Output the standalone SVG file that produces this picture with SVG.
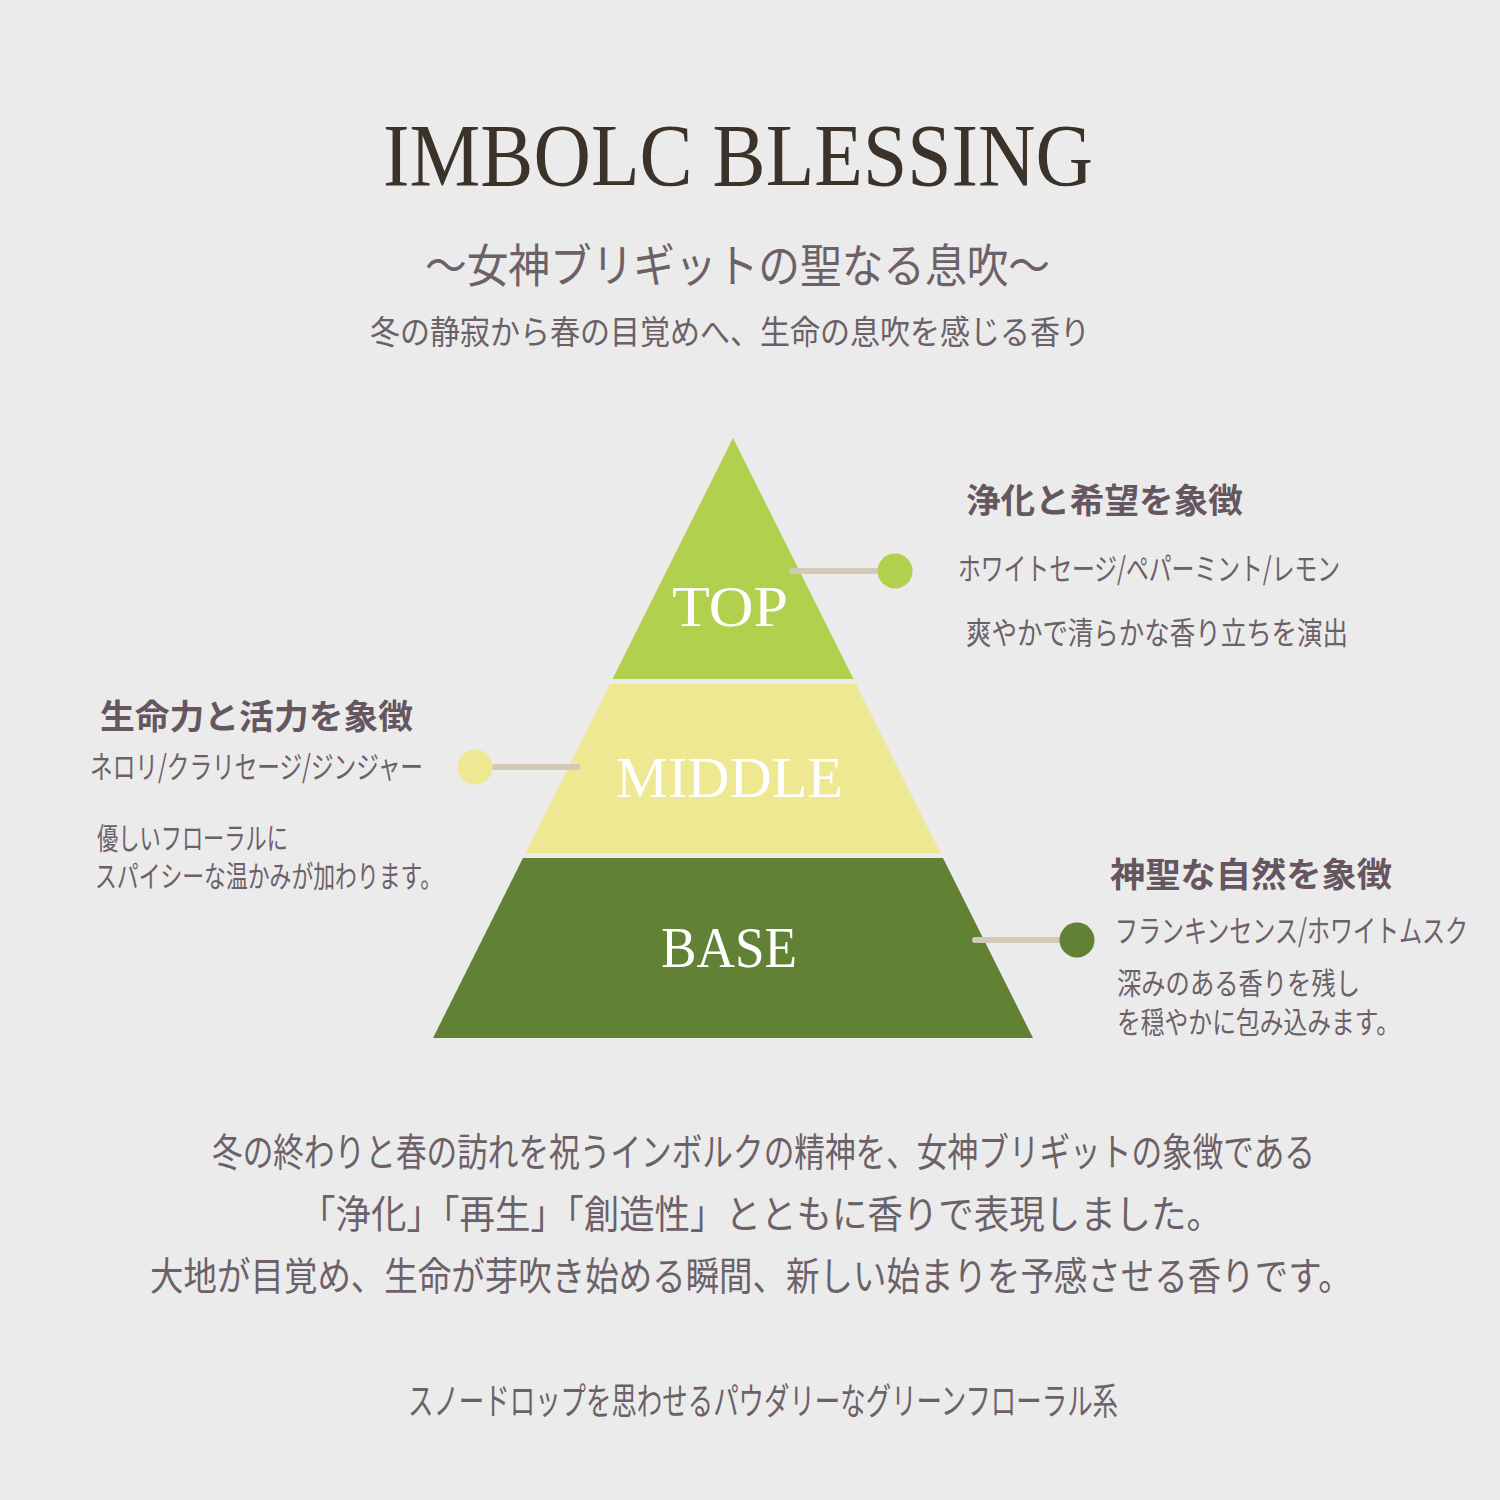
<svg xmlns="http://www.w3.org/2000/svg" width="1500" height="1500" viewBox="0 0 1500 1500">
<style>
.title{font-family:"Liberation Serif","DejaVu Serif",serif;fill:#3b3229}
.jp{font-family:"Noto Sans CJK JP","Noto Sans",sans-serif;fill:#6c6168}
.hd{font-family:"Noto Sans CJK JP","Noto Sans",sans-serif;font-weight:bold;fill:#65565f}
.tier{font-family:"Liberation Serif","DejaVu Serif",serif;fill:#ffffff}
.conn{stroke:#d2c9b9;stroke-width:6;stroke-linecap:round;fill:none}
</style>
<rect width="1500" height="1500" fill="#ebebeb"/>
<g id="header">
<text class="title" x="383" y="185" font-size="88" textLength="710" lengthAdjust="spacingAndGlyphs">IMBOLC BLESSING</text>
<text class="jp" x="425" y="282" font-size="46" textLength="625" lengthAdjust="spacingAndGlyphs">～女神ブリギットの聖なる息吹～</text>
<text class="jp" x="370" y="344" font-size="33" textLength="720" lengthAdjust="spacingAndGlyphs">冬の静寂から春の目覚めへ、生命の息吹を感じる香り</text>
</g>
<g id="top">
<polygon points="733,438 853.5,679 612.5,679" fill="#b0d04e"/>
<text class="tier" x="672" y="626" font-size="58" textLength="116" lengthAdjust="spacingAndGlyphs">TOP</text>
</g>
<g id="middle">
<polygon points="610,684 856,684 940.5,853 525.5,853" fill="#ede891"/>
<text class="tier" x="616" y="797" font-size="58" textLength="227" lengthAdjust="spacingAndGlyphs">MIDDLE</text>
</g>
<g id="base">
<polygon points="523,858 943,858 1033,1038 433,1038" fill="#618134"/>
<text class="tier" x="661" y="967" font-size="58" textLength="136" lengthAdjust="spacingAndGlyphs">BASE</text>
</g>
<g id="connectors">
<line class="conn" x1="792" y1="571" x2="882" y2="571"/>
<circle cx="895" cy="571" r="17.5" fill="#b0d04e"/>
<line class="conn" x1="488" y1="767" x2="577" y2="767"/>
<circle cx="475" cy="767" r="17.5" fill="#ede891"/>
<line class="conn" x1="975" y1="940" x2="1065" y2="940"/>
<circle cx="1077" cy="940" r="17.5" fill="#618134"/>
</g>
<g id="top-note">
<text class="hd" x="966" y="513" font-size="34" textLength="277" lengthAdjust="spacingAndGlyphs">浄化と希望を象徴</text>
<text class="jp" x="958" y="580" font-size="31" textLength="382" lengthAdjust="spacingAndGlyphs">ホワイトセージ/ペパーミント/レモン</text>
<text class="jp" x="966" y="644" font-size="31" textLength="382" lengthAdjust="spacingAndGlyphs">爽やかで清らかな香り立ちを演出</text>
</g>
<g id="middle-note">
<text class="hd" x="100" y="729" font-size="34" textLength="313" lengthAdjust="spacingAndGlyphs">生命力と活力を象徴</text>
<text class="jp" x="90" y="778" font-size="31" textLength="333" lengthAdjust="spacingAndGlyphs">ネロリ/クラリセージ/ジンジャー</text>
<text class="jp" x="97" y="849" font-size="30" textLength="191" lengthAdjust="spacingAndGlyphs">優しいフローラルに</text>
<text class="jp" x="95" y="887" font-size="30" textLength="347" lengthAdjust="spacingAndGlyphs">スパイシーな温かみが加わります。</text>
</g>
<g id="base-note">
<text class="hd" x="1110" y="887" font-size="34" textLength="282" lengthAdjust="spacingAndGlyphs">神聖な自然を象徴</text>
<text class="jp" transform="translate(1115,942) scale(0.74,1)" x="0" y="0" font-size="31" textLength="477" lengthAdjust="spacingAndGlyphs">フランキンセンス/ホワイトムスク</text>
<text class="jp" x="1117" y="994" font-size="30" textLength="243" lengthAdjust="spacingAndGlyphs">深みのある香りを残し</text>
<text class="jp" x="1117" y="1033" font-size="30" textLength="283" lengthAdjust="spacingAndGlyphs">を穏やかに包み込みます。</text>
</g>
<g id="description">
<text class="jp" transform="translate(212,1166) scale(0.7856,1)" x="0" y="0" font-size="39" textLength="1404" lengthAdjust="spacingAndGlyphs">冬の終わりと春の訪れを祝うインボルクの精神を、女神ブリギットの象徴である</text>
<text class="jp" x="300" y="1228" font-size="39" textLength="922" lengthAdjust="spacingAndGlyphs">「浄化」「再生」「創造性」とともに香りで表現しました。</text>
<text class="jp" transform="translate(150,1290) scale(0.856,1)" x="0" y="0" font-size="39" textLength="1404" lengthAdjust="spacingAndGlyphs">大地が目覚め、生命が芽吹き始める瞬間、新しい始まりを予感させる香りです。</text>
<text class="jp" x="408" y="1415" font-size="37" textLength="710" lengthAdjust="spacingAndGlyphs">スノードロップを思わせるパウダリーなグリーンフローラル系</text>
</g>
</svg>
